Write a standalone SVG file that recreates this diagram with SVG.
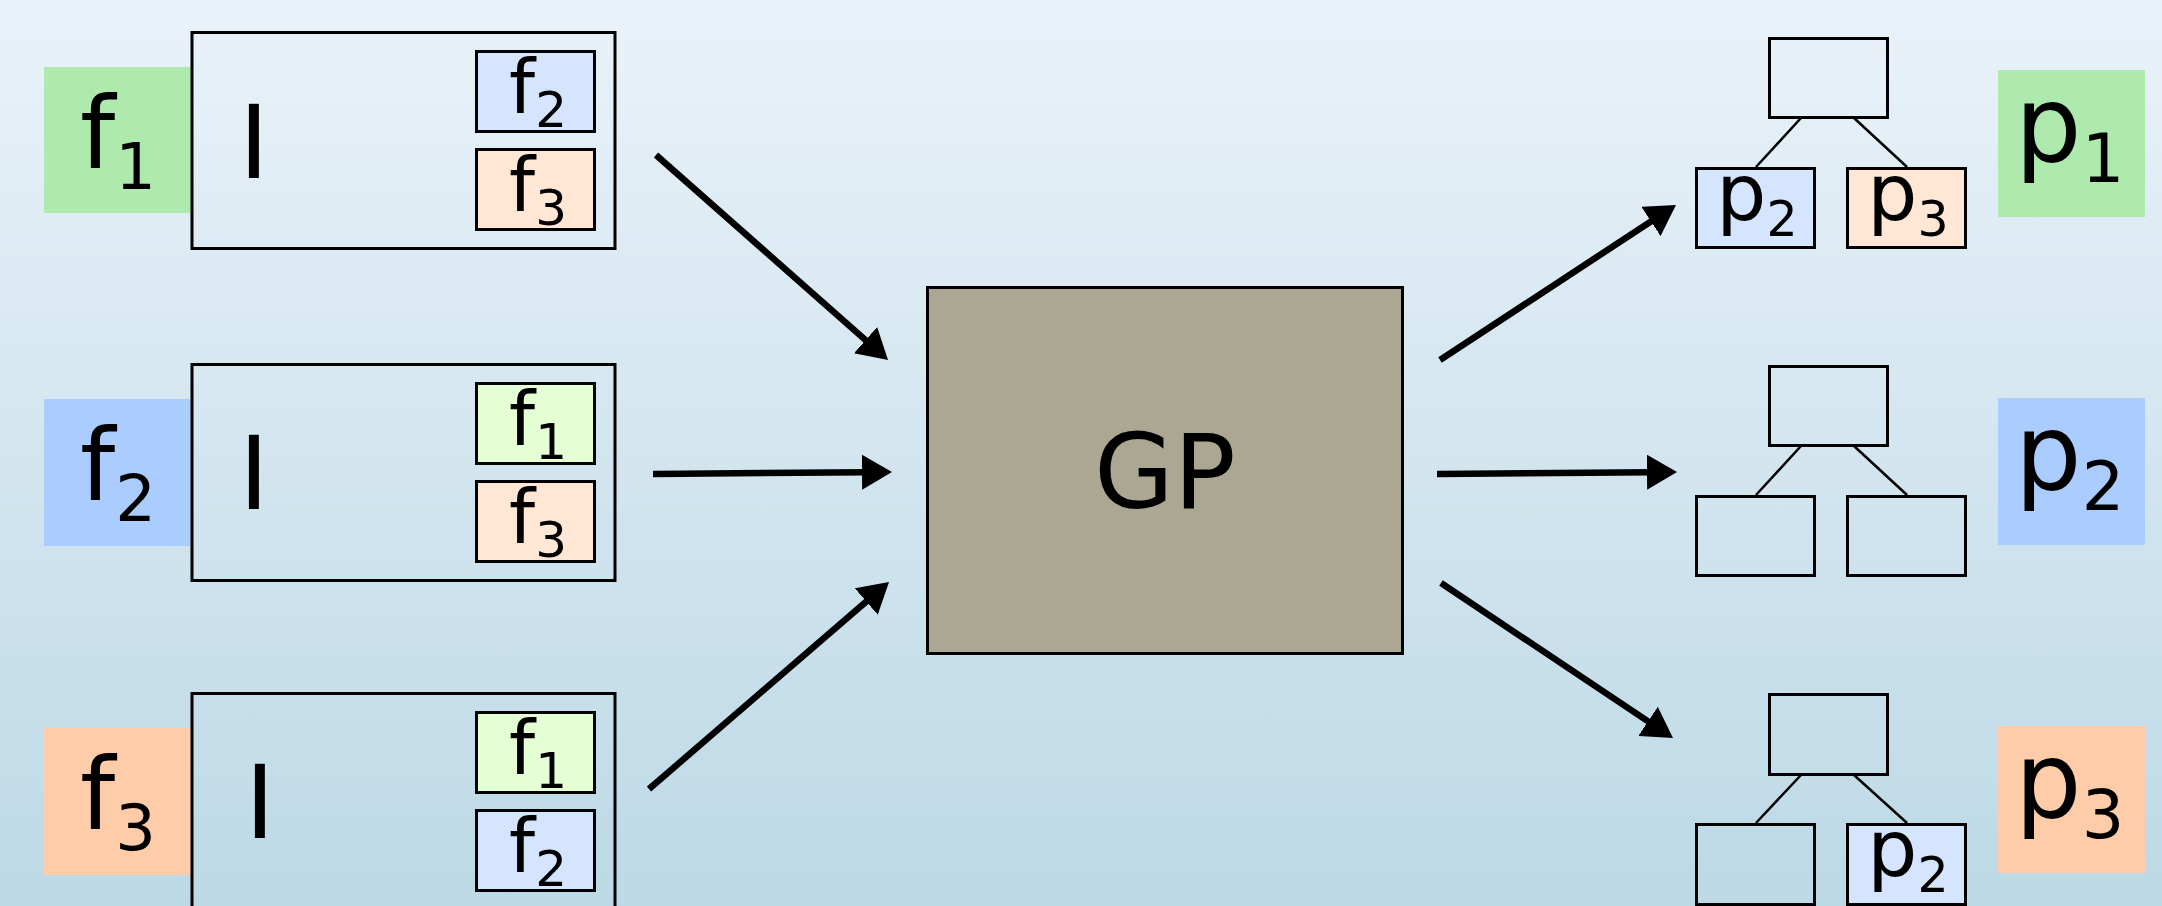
<svg xmlns="http://www.w3.org/2000/svg" width="2162" height="906" viewBox="0 0 2162 906">
  <defs>
    <linearGradient id="bg" x1="0" y1="0" x2="0" y2="1">
      <stop offset="0" stop-color="#eaf2f9"/>
      <stop offset="1" stop-color="#bcd9e6"/>
    </linearGradient>
    <marker id="head" viewBox="0 -17.5 30 35" refX="5" refY="0" markerWidth="30" markerHeight="35" markerUnits="userSpaceOnUse" orient="auto">
      <path d="M0,-17.5 L30,0 L0,17.5 Z" fill="#000"/>
    </marker>
    <style>
      text { font-family: "DejaVu Sans", "Liberation Sans", sans-serif; fill: #000; }
      .frame { fill: none; stroke: #000; stroke-width: 3; }
      .cell { stroke: #000; stroke-width: 3; }
      .edge { stroke: #000; stroke-width: 2.5; }
      .arrow { stroke: #000; stroke-width: 6.5; fill: none; marker-end: url(#head); }
      .big { font-size: 100px; }
      .big tspan { font-size: 64px; }
      .small { font-size: 74px; text-anchor: middle; }
      .small tspan { font-size: 50px; }
      .pbig { font-size: 105px; }
      .pbig tspan { font-size: 67px; }
      .psmall { font-size: 79px; text-anchor: middle; }
      .psmall tspan { font-size: 49px; }
      .c1 { fill: #e5ffd5; }
      .c2 { fill: #d5e5ff; }
      .c3 { fill: #ffe6d5; }
      .tree { fill: none; }
    </style>
  </defs>

  <rect x="0" y="0" width="2162" height="906" fill="url(#bg)"/>

  <!-- input individuals -->
  <g id="f1">
    <rect x="44" y="67" width="147" height="146" fill="#aee9ad"/>
    <text class="big" x="80" y="168">f<tspan dy="21">1</tspan></text>
    <rect class="frame" x="192" y="32.5" width="423" height="216"/>
    <text x="239" y="178" font-size="101">I</text>
    <rect class="cell c2" x="476.5" y="51.5" width="118" height="80"/>
    <text class="small" x="538" y="113">f<tspan dy="14">2</tspan></text>
    <rect class="cell c3" x="476.5" y="149.5" width="118" height="80"/>
    <text class="small" x="538" y="211">f<tspan dy="14">3</tspan></text>
  </g>

  <g id="f2">
    <rect x="44" y="399" width="147" height="147" fill="#aaccff"/>
    <text class="big" x="80" y="500">f<tspan dy="21">2</tspan></text>
    <rect class="frame" x="192" y="364.5" width="423" height="216"/>
    <text x="239" y="509" font-size="101">I</text>
    <rect class="cell c1" x="476.5" y="383.5" width="118" height="80"/>
    <text class="small" x="538" y="445">f<tspan dy="14">1</tspan></text>
    <rect class="cell c3" x="476.5" y="481.5" width="118" height="80"/>
    <text class="small" x="538" y="543">f<tspan dy="14">3</tspan></text>
  </g>

  <g id="f3">
    <rect x="44" y="728" width="147" height="147" fill="#ffccaa"/>
    <text class="big" x="80" y="829">f<tspan dy="21">3</tspan></text>
    <rect class="frame" x="192" y="693.5" width="423" height="216"/>
    <text x="245" y="838" font-size="101">I</text>
    <rect class="cell c1" x="476.5" y="712.5" width="118" height="80"/>
    <text class="small" x="538" y="774">f<tspan dy="14">1</tspan></text>
    <rect class="cell c2" x="476.5" y="810.5" width="118" height="80"/>
    <text class="small" x="538" y="872">f<tspan dy="14">2</tspan></text>
  </g>

  <!-- central engine -->
  <g id="gp">
    <rect x="927.5" y="287.5" width="475" height="366" fill="#aca792" stroke="#000" stroke-width="3"/>
    <text x="1165" y="508" font-size="103" text-anchor="middle">GP</text>
  </g>

  <!-- resulting programs -->
  <g id="p1">
    <line class="edge" x1="1801" y1="118" x2="1756" y2="167"/>
    <line class="edge" x1="1854" y1="118" x2="1907" y2="167"/>
    <rect class="cell tree" x="1769.5" y="38.5" width="118" height="79"/>
    <rect class="cell c2" x="1696.5" y="168.5" width="118" height="79"/>
    <text class="psmall" x="1757" y="220">p<tspan dy="16">2</tspan></text>
    <rect class="cell c3" x="1847.5" y="168.5" width="118" height="79"/>
    <text class="psmall" x="1908" y="220">p<tspan dy="16">3</tspan></text>
    <rect x="1998" y="70" width="147" height="147" fill="#aee9ad"/>
    <text class="pbig" x="2015" y="161">p<tspan dy="21">1</tspan></text>
  </g>

  <g id="p2">
    <line class="edge" x1="1801" y1="446" x2="1756" y2="495"/>
    <line class="edge" x1="1854" y1="446" x2="1907" y2="495"/>
    <rect class="cell tree" x="1769.5" y="366.5" width="118" height="79"/>
    <rect class="cell tree" x="1696.5" y="496.5" width="118" height="79"/>
    <rect class="cell tree" x="1847.5" y="496.5" width="118" height="79"/>
    <rect x="1998" y="398" width="147" height="147" fill="#aaccff"/>
    <text class="pbig" x="2015" y="489">p<tspan dy="21">2</tspan></text>
  </g>

  <g id="p3">
    <line class="edge" x1="1801" y1="775" x2="1756" y2="823"/>
    <line class="edge" x1="1854" y1="775" x2="1907" y2="823"/>
    <rect class="cell tree" x="1769.5" y="694.5" width="118" height="80"/>
    <rect class="cell tree" x="1696.5" y="824.5" width="118" height="80"/>
    <rect class="cell c2" x="1847.5" y="824.5" width="118" height="80"/>
    <text class="psmall" x="1908" y="876">p<tspan dy="16">2</tspan></text>
    <rect x="1998" y="726" width="147" height="147" fill="#ffccaa"/>
    <text class="pbig" x="2015" y="817">p<tspan dy="21">3</tspan></text>
  </g>

  <!-- flow arrows -->
  <g id="connectors">
    <line class="arrow" x1="656" y1="155" x2="869.3" y2="343.4"/>
    <line class="arrow" x1="653" y1="474" x2="867" y2="472.2"/>
    <line class="arrow" x1="649" y1="789" x2="870.1" y2="598.3"/>
    <line class="arrow" x1="1440" y1="360" x2="1655.1" y2="218.7"/>
    <line class="arrow" x1="1437" y1="474" x2="1652" y2="472.2"/>
    <line class="arrow" x1="1441" y1="583" x2="1652.2" y2="724.1"/>
  </g>
</svg>
